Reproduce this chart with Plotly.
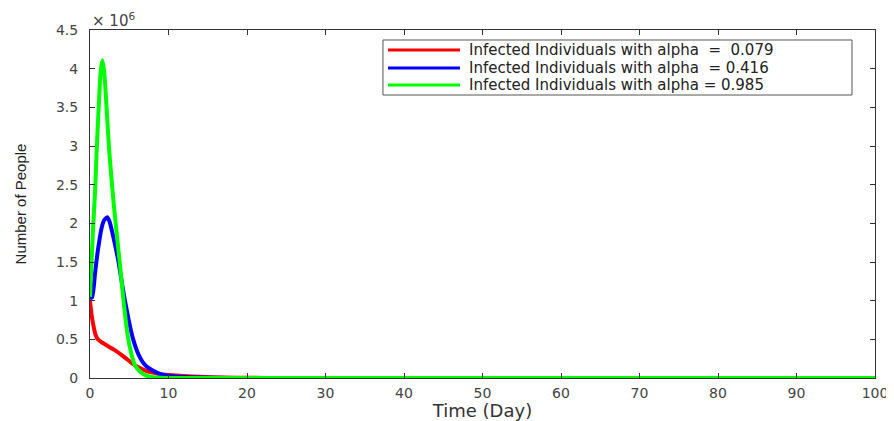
import plotly.graph_objects as go

# ---- data (values in millions of people) ----
t_red = [0, 0.2, 0.43, 0.7, 1.0, 1.5, 2, 3, 4, 5, 5.5, 6, 7, 8, 9, 10, 12, 14, 17, 20, 25, 40, 60, 80, 100]
v_red = [1.00, 0.82, 0.68, 0.56, 0.50, 0.46, 0.43, 0.37, 0.30, 0.22, 0.18, 0.15, 0.10, 0.07, 0.05,
         0.04, 0.025, 0.015, 0.007, 0.003, 0.0, 0.0, 0.0, 0.0, 0.0]

t_blue = [0, 0.25, 0.45, 0.64, 1.06, 1.5, 1.8, 2.21, 2.5, 2.8, 3.2, 3.6, 4.0, 4.45, 4.95, 5.5,
          6.2, 7.0, 8.3, 9, 10, 12, 15, 20, 40, 60, 80, 100]
v_blue = [1.03, 1.04, 1.15, 1.35, 1.69, 1.95, 2.04, 2.08, 2.02, 1.90, 1.72, 1.52, 1.27, 1.00, 0.74,
          0.50, 0.30, 0.17, 0.08, 0.05, 0.03, 0.012, 0.004, 0.0, 0.0, 0.0, 0.0, 0.0]

t_green = [0, 0.2, 0.4, 0.64, 0.85, 1.15, 1.35, 1.57, 1.8, 2.04, 2.43, 2.95, 3.4, 3.85, 4.25, 4.8,
           5.3, 5.7, 6.4, 7.2, 8, 9, 10, 20, 40, 60, 80, 100]
v_green = [1.05, 1.50, 1.95, 2.40, 2.94, 3.59, 3.95, 4.11, 3.97, 3.62, 2.96, 2.33, 1.87, 1.43, 1.02,
           0.55, 0.30, 0.17, 0.08, 0.03, 0.01, 0.003, 0.0, 0.0, 0.0, 0.0, 0.0, 0.0]

names = ["Infected Individuals with alpha\u00a0\u00a0=\u00a0\u00a00.079",
         "Infected Individuals with alpha\u00a0\u00a0= 0.416",
         "Infected Individuals with alpha = 0.985"]
colors = ["#ff0000", "#0000ff", "#00ff00"]

y_tickvals = [0, 0.5e6, 1e6, 1.5e6, 2e6, 2.5e6, 3e6, 3.5e6, 4e6, 4.5e6]
y_ticktext = ["0", "0.5", "1", "1.5", "2", "2.5", "3", "3.5", "4", "4.5"]
x_tickvals = [0, 10, 20, 30, 40, 50, 60, 70, 80, 90, 100]

SCALE = 1e6

fig = go.Figure()
for t, v, n, c in zip([t_red, t_blue, t_green], [v_red, v_blue, v_green], names, colors):
    fig.add_trace(go.Scatter(
        x=t, y=[val * SCALE for val in v], mode="lines", name=n, showlegend=False,
        line=dict(color=c, width=4, shape="spline", smoothing=0.5),
    ))

# ---- legend drawn as a boxed key (paper coordinates) ----
box = dict(x0=0.3732, x1=0.9707, y0=0.8132, y1=0.9713)
row_y = [0.9425, 0.8908, 0.8420]
line_x = (0.3796, 0.4713)
text_x = 0.4803

shapes = [dict(type="rect", xref="paper", yref="paper", **box,
               line=dict(color="#555555", width=1), fillcolor="white", layer="above")]
annotations = []
for n, c, ry in zip(names, colors, row_y):
    shapes.append(dict(type="line", xref="paper", yref="paper",
                       x0=line_x[0], x1=line_x[1], y0=ry, y1=ry,
                       line=dict(color=c, width=3), layer="above"))
    annotations.append(dict(xref="paper", yref="paper", x=text_x, y=ry,
                            xanchor="left", yanchor="middle", text=n, showarrow=False,
                            font=dict(family="DejaVu Sans", size=15, color="#222222")))

annotations.append(dict(
    xref="paper", yref="paper", x=0.0, y=1.0, xanchor="left", yanchor="bottom",
    text="\u00d7 10<sup>6</sup>", showarrow=False, yshift=-2,
    font=dict(family="DejaVu Sans", size=15, color="#444444"),
))

axis_common = dict(
    showline=True, linecolor="#333333", linewidth=1, mirror="ticks",
    ticks="inside", ticklen=5, tickcolor="#333333",
    showgrid=False, zeroline=False,
    tickfont=dict(family="DejaVu Sans", size=14, color="#444444"),
)

# page body adds an 8px offset, so the figure is sized to the visible area
fig.update_layout(
    width=886, height=413,
    margin=dict(l=82, r=19, t=22, b=43, autoexpand=False),
    paper_bgcolor="white", plot_bgcolor="white",
    showlegend=False,
    xaxis=dict(
        range=[0, 100], tickvals=x_tickvals,
        title=dict(text="Time (Day)", font=dict(family="DejaVu Sans", size=18, color="#333333"),
                   standoff=1),
        ticklabelstandoff=2,
        **axis_common,
    ),
    yaxis=dict(
        range=[0, 4.5e6], tickvals=y_tickvals, ticktext=y_ticktext,
        title=dict(text="Number of People",
                   font=dict(family="Liberation Sans Narrow, Liberation Sans, Arial", size=15, color="#222222"),
                   standoff=25),
        ticklabelstandoff=8,
        **axis_common,
    ),
    shapes=shapes,
    annotations=annotations,
)

fig.write_html("out.html")
